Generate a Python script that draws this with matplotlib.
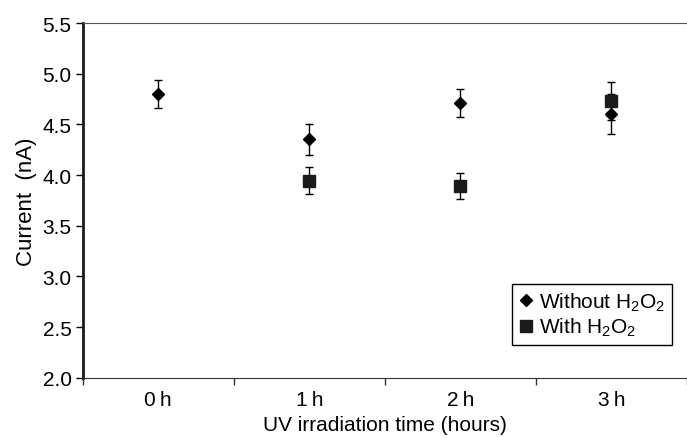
import matplotlib
matplotlib.use("Agg")
import matplotlib.pyplot as plt
import numpy as np

plt.rcParams['font.family'] = ['Liberation Sans', 'DejaVu Sans']
plt.rcParams['mathtext.default'] = 'regular'

categories = ['0\u2009h', '1\u2009h', '2\u2009h', '3\u2009h']
without_h2o2 = [4.80, 4.355, 4.71, 4.60]
without_err = [0.14, 0.153, 0.14, 0.20]
with_cats = [1, 2, 3]
with_h2o2 = [3.943, 3.894, 4.73]
with_err = [0.133, 0.13, 0.19]

fig = plt.figure(figsize=(6.87, 4.39), dpi=100)
ax = fig.add_axes([0.1204, 0.1374, 0.8796, 0.8079])

x = np.arange(len(categories))
ax.errorbar(x, without_h2o2, yerr=without_err, fmt='D', color='black', ms=6.5,
            ecolor='black', elinewidth=1, capsize=3, capthick=1, zorder=3,
            label='Without H$_2$O$_2$')
ax.errorbar(with_cats, with_h2o2, yerr=with_err, fmt='s', color='#1a1a1a', ms=8.5,
            ecolor='black', elinewidth=1, capsize=3,
            capthick=1, zorder=3, label='With H$_2$O$_2$')

ax.set_xlim(-0.5, 3.45)
ax.set_ylim(2.0, 5.5)
yt = np.arange(2.0, 5.51, 0.5)
ax.set_yticks(yt)
ax.set_yticklabels([f'{v:.1f}' for v in yt])
ax.set_xticks(np.arange(-0.5, 3.6, 1.0))
ax.set_xticklabels([])
ax.set_xticks(x, minor=True)
ax.set_xticklabels(categories, minor=True)
ax.tick_params(axis='x', which='minor', length=0, pad=9, labelsize=15)
ax.tick_params(axis='x', which='major', length=5, width=1, color='#333333')
ax.tick_params(axis='y', length=5, width=1, labelsize=15, pad=3)

ax.spines['right'].set_visible(False)
ax.spines['left'].set_linewidth(2)
ax.spines['left'].set_color('#1a1a1a')
ax.spines['top'].set_color('#555555')
ax.spines['bottom'].set_color('#333333')

ax.set_ylabel('Current  (nA)', fontsize=16, labelpad=4)
ax.set_xlabel('UV irradiation time (hours)', fontsize=15, labelpad=4)

handles, labels = ax.get_legend_handles_labels()
handles = [h[0] for h in handles]
leg = ax.legend(handles, labels, loc='lower right', bbox_to_anchor=(0.978, 0.2125),
                bbox_transform=fig.transFigure, borderaxespad=0, fancybox=False,
                edgecolor='black', fontsize=15, handlelength=0.7, handletextpad=0.3,
                borderpad=0.3, labelspacing=0.15, framealpha=1)
leg.get_frame().set_linewidth(1)

fig.savefig('out.png', dpi=100)
